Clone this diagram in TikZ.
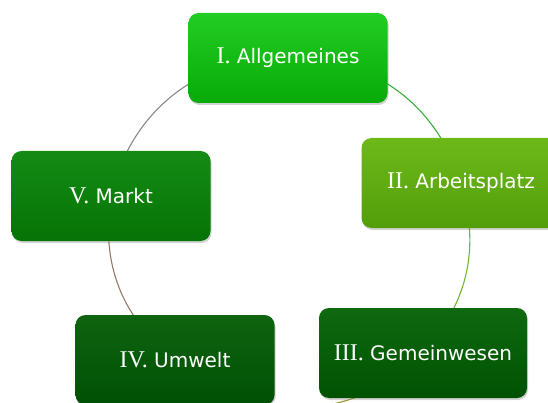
\documentclass[tikz,border=0pt]{standalone}
\usepackage{fontspec}
\setmainfont{DejaVu Sans}
\newfontfamily\romfont[Scale=1.2]{Liberation Serif}
\usetikzlibrary{shapes,shadows,backgrounds}
\usepackage{xcolor}

\definecolor{topI}{RGB}{35,205,35}
\definecolor{botI}{RGB}{8,170,8}
\definecolor{topII}{RGB}{110,185,25}
\definecolor{botII}{RGB}{82,158,10}
\definecolor{topIII}{RGB}{15,105,15}
\definecolor{botIII}{RGB}{0,82,2}
\definecolor{topIV}{RGB}{15,100,15}
\definecolor{botIV}{RGB}{0,80,5}
\definecolor{topV}{RGB}{20,140,20}
\definecolor{botV}{RGB}{5,115,5}
\definecolor{ringI}{RGB}{55,175,55}
\definecolor{ringII}{RGB}{115,180,55}
\definecolor{ringIII}{RGB}{150,150,35}
\definecolor{ringIV}{RGB}{145,122,100}
\definecolor{ringV}{RGB}{135,135,135}

\newcommand{\rom}[1]{{\romfont #1}}

\begin{document}
\begin{tikzpicture}[x=1pt, y=-1pt,
    box/.style={rectangle, rounded corners=10pt, minimum width=199pt, minimum height=90pt,
      text=white, font=\fontsize{20}{24}\selectfont,
      drop shadow={shadow xshift=1pt, shadow yshift=-2pt, opacity=0.35}},
    ring/.style={line width=1.1pt}]
    \useasboundingbox (0,0) rectangle (548,403);

    % Topics
    \node[box, top color=topI, bottom color=botI] (allg) at (288,58) {\rom{I.} Allgemeines};
    \node[box, top color=topII, bottom color=botII] (arbeit) at (461,183) {\rom{II.} Arbeitsplatz};
    \node[box, top color=topIII, bottom color=botIII, minimum width=208pt] (gemein) at (423,353) {\rom{III.} Gemeinwesen};
    \node[box, top color=topIV, bottom color=botIV] (umwelt) at (175,360) {\rom{IV.} Umwelt};
    \node[box, top color=topV, bottom color=botV] (markt) at (111,196) {\rom{V.} Markt};

    % Cycle
    \begin{pgfonlayer}{background}
    \draw[ring, draw=ringI] (allg.center) to[bend left=37] (arbeit.center);
    \draw[ring, draw=ringII] (arbeit.center) to[bend left=29] (gemein.center);
    \draw[ring, draw=ringIII] (gemein.center) to[bend left=45] (umwelt.center);
    \draw[ring, draw=ringIV] (umwelt.center) to[bend left=30] (markt.center);
    \draw[ring, draw=ringV] (markt.center) to[bend left=39] (allg.center);
    \end{pgfonlayer}
\end{tikzpicture}
\end{document}
